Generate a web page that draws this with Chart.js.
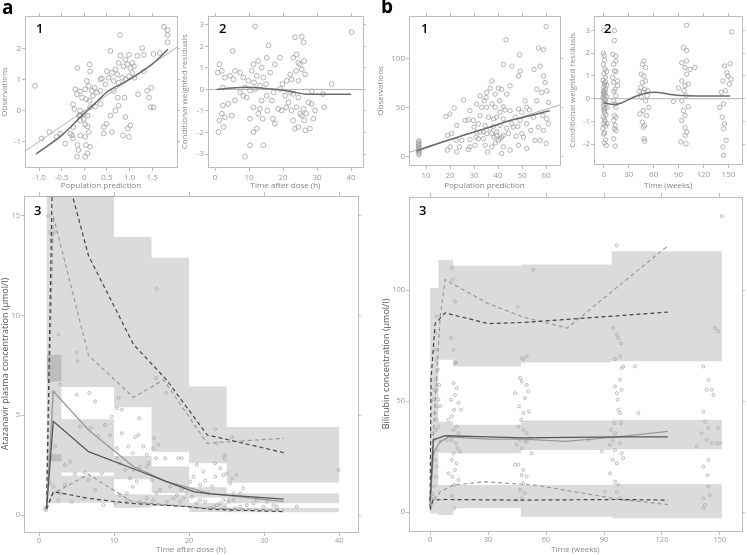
<!DOCTYPE html>
<html>
<head>
<meta charset="utf-8">
<script src="https://cdn.jsdelivr.net/npm/chart.js@4.4.0/dist/chart.umd.min.js"></script>
<style>
  html, body { margin: 0; padding: 0; background: #fff; }
  body { width: 747px; height: 555px; position: relative; overflow: hidden; font-family: 'Open Sans', sans-serif; }
  canvas { position: absolute; }
  .lbl { position: absolute; line-height: 1; color: #000; }
  .big { font-size: 19px; font-weight: bold; }
  .num { font-size: 13px; font-weight: 600; }
</style>
</head>
<body>
<canvas id="a1" width="183" height="184" style="left:0px;top:11px"></canvas>
<canvas id="a2" width="189" height="184" style="left:180px;top:11px"></canvas>
<canvas id="b1" width="190" height="184" style="left:376px;top:11px"></canvas>
<canvas id="b2" width="181" height="184" style="left:566px;top:11px"></canvas>
<canvas id="a3" width="366" height="365" style="left:0px;top:190px"></canvas>
<canvas id="b3" width="369" height="364" style="left:378px;top:191px"></canvas>

<div class="lbl big" style="left:2px;top:-2px">a</div>
<div class="lbl big" style="left:381px;top:-3px">b</div>
<div class="lbl num" style="left:36px;top:22px">1</div>
<div class="lbl num" style="left:219px;top:22px">2</div>
<div class="lbl num" style="left:421px;top:22px">1</div>
<div class="lbl num" style="left:604px;top:22px">2</div>
<div class="lbl num" style="left:34px;top:204px">3</div>
<div class="lbl num" style="left:419px;top:204px">3</div>

<script>
// ---------- a1: observations vs population prediction ----------
const a1XTicks = [-1, -0.5, 0, 0.5, 1, 1.5];
const a1XLabels = ['-1.0', '-0.5', '0', '0.5', '1.0', '1.5'];
const a1YTicks = [-1, 0, 1, 2];
const a1YLabels = ['-1', '0', '1', '2'];
const a1Points = [[-1.09,0.80],[1.76,2.71],[1.84,2.60],[1.84,2.44],[1.84,2.21],[0.79,2.44],[0.58,1.93],[1.67,1.86],[1.53,1.83],[1.28,2.02],[1.32,1.80],[1.17,1.77],[0.80,1.78],[0.99,1.80],[0.91,1.65],[1.06,1.54],[1.10,1.43],[1.02,1.38],[0.95,1.49],[0.87,1.43],[0.76,1.54],[0.69,1.33],[0.73,1.17],[0.61,1.22],[0.50,1.27],[0.54,1.06],[0.65,0.96],[0.76,0.90],[0.84,1.06],[0.91,1.01],[0.99,1.11],[1.06,1.22],[1.11,1.06],[0.12,1.49],[0.13,1.27],[-0.15,1.38],[0.06,0.96],[0.10,0.80],[0.02,0.69],[-0.09,0.62],[0.17,0.64],[0.23,0.74],[0.36,1.01],[0.39,1.04],[-0.20,0.69],[-0.16,0.53],[-0.05,0.42],[0.04,0.37],[0.12,0.32],[0.19,0.48],[0.28,0.58],[0.36,0.64],[-0.25,0.21],[-0.22,0.05],[-0.09,0.00],[-0.01,-0.11],[0.07,-0.16],[0.13,0.11],[0.24,0.13],[-0.01,-0.27],[-0.09,-0.32],[0.02,-0.45],[0.07,-0.51],[-0.24,-0.53],[-0.31,-0.74],[-0.27,-0.80],[-0.25,-0.90],[-0.15,-1.11],[0.04,-1.11],[0.02,-0.85],[0.10,-0.69],[-0.09,-0.80],[0.13,-1.17],[0.07,-1.38],[-0.16,-1.49],[0.02,-1.49],[-0.13,-1.27],[-0.53,-0.74],[-0.61,-0.85],[-0.42,-1.06],[-0.77,-0.69],[-0.94,-0.90],[0.43,-0.53],[0.49,-0.42],[0.58,-0.16],[0.69,0.00],[0.76,0.16],[0.91,-0.21],[0.96,-0.58],[0.99,-0.85],[0.86,-0.80],[1.02,-0.48],[1.39,0.64],[1.43,0.42],[1.48,0.74],[1.32,1.27],[1.19,0.53],[1.47,0.11],[1.53,0.11],[0.74,0.42],[0.65,0.64],[0.47,0.85],[0.36,0.21],[0.43,-0.74],[0.61,-0.69],[0.89,0.42],[-0.10,-0.15],[-0.08,-0.13],[-0.12,-0.16]];
const a1Identity = [[-1.35,-1.35],[2.1,2.1]];
const a1Smooth = [[-1.07,-1.4],[-0.5,-0.8],[-0.05,-0.16],[0.25,0.25],[0.5,0.6],[0.8,0.85],[1.1,1.1],[1.5,1.5],[1.85,1.98]];

// ---------- a2: CWRES vs time after dose ----------
const a2XTicks = [0, 10, 20, 30, 40];
const a2XLabels = ['0', '10', '20', '30', '40'];
const a2YTicks = [-3, -2, -1, 0, 1, 2, 3];
const a2YLabels = ['-3', '-2', '-1', '0', '1', '2', '3'];
const a2Points = [[11.8,2.92],[40.2,2.66],[15.7,2.04],[5.2,1.78],[23.5,2.42],[25.5,2.45],[26,2.19],[23.0,1.47],[24.0,1.62],[24.5,1.24],[25.0,1.16],[26.2,1.32],[25.5,0.93],[23.8,0.86],[26.5,0.70],[22.1,0.70],[21.1,0.40],[22.5,0.47],[24.5,0.40],[19.8,0.25],[19.1,1.47],[17.6,1.16],[15.2,1.47],[16.2,0.78],[13.7,1.01],[12.7,1.32],[11.3,1.16],[10.8,0.86],[12.3,0.63],[14.2,0.55],[15.0,0.25],[13.2,0.17],[11.5,0.32],[9.8,0.40],[8.8,0.09],[10.3,-0.06],[11.8,0.02],[1.3,1.16],[0.8,0.78],[2.0,0.86],[2.9,0.55],[4.4,0.63],[5.9,0.86],[7.4,0.78],[8.3,0.55],[5.4,0.47],[2.3,0.09],[2.0,-1.13],[1.3,-1.44],[1.0,-1.98],[2.5,-1.75],[2.9,-1.29],[2.3,-0.75],[3.9,-0.67],[4.9,-1.21],[8.3,-0.29],[9.3,-0.37],[11.3,-0.83],[10.3,-1.36],[10.3,-2.59],[8.8,-3.12],[11.3,-1.98],[12.3,-1.82],[13.7,-0.52],[13.2,-0.90],[12.7,-1.13],[14.2,-2.59],[14.0,-1.36],[15.4,-0.98],[16.7,-0.52],[17.0,-1.36],[17.6,-1.59],[18.6,-0.90],[19.6,-0.98],[20.6,-0.29],[20.9,-0.83],[21.6,-0.60],[22.5,-0.98],[23.0,-1.44],[23.5,-1.82],[24.5,-1.75],[25.0,-1.13],[25.5,-1.21],[26.0,-0.90],[26.2,-1.44],[26.8,-1.13],[27.5,-0.60],[28.4,-0.67],[29.4,-0.98],[28.9,-1.36],[27.9,-1.82],[26.5,-1.90],[24.0,-0.83],[24.5,-0.37],[23.0,-0.21],[22.1,-0.14],[28.4,-0.09],[32.1,-0.83],[31.7,-0.21],[34.3,0.25],[19.1,0.02],[17.2,-0.14],[15.2,-0.29],[5.9,-0.52],[7.4,-0.14]];
const a2Zero = [[-2.1,0],[43.6,0]];
const a2Smooth = [[0.5,0],[5,0.07],[9.3,0.1],[14,0.06],[19,-0.02],[23,-0.12],[27,-0.22],[33,-0.22],[40,-0.22]];

// ---------- b1: observations vs population prediction ----------
const b1XTicks = [10, 20, 30, 40, 50, 60];
const b1XLabels = ['10', '20', '30', '40', '50', '60'];
const b1YTicks = [0, 50, 100];
const b1YLabels = ['0', '50', '100'];
const b1Points = [[7,2],[7,3.5],[7,5],[7.1,6],[6.9,7],[7,8.5],[7,10],[7.1,11],[6.9,12],[7,13.5],[7,15],[7,16.5],[18.3,41.1],[20,43.8],[21.7,49.8],[25.6,57.9],[22.8,32],[26.3,37],[27.6,37.7],[19,21.9],[20.7,23.6],[22.5,16.8],[24.9,16.8],[28.3,17.5],[23.9,10.1],[20,10.1],[18.9,6.7],[22.8,5],[27.6,7.4],[28.3,10.1],[30.4,11.8],[30.8,20.2],[31.1,25.3],[30,30.3],[31.8,33.7],[32.5,42.1],[33.2,50.5],[34.2,57.2],[35.3,65.7],[36.7,70],[37.4,77.4],[40.1,70],[41.5,69],[38.8,64],[40.6,57.2],[42.2,51.2],[42.9,47.8],[43.6,64],[45,72.4],[48.5,82.5],[49.2,87.5],[45.8,92.6],[48.9,104.4],[43.3,119.5],[42.2,94.3],[57.5,92.6],[58.9,109.4],[56.8,111.1],[60,133],[58.9,82.5],[59.6,75.8],[56.1,69],[61,55.6],[58.2,65.7],[60.3,67.3],[60,13.5],[57.5,16.8],[58.9,26.9],[51.9,33.7],[53.6,26.9],[49.9,23.6],[50.6,20.2],[48.5,11.8],[47.5,20.9],[45.7,33.7],[47.1,40.4],[49.9,45.5],[51.3,57.2],[53.1,47.8],[54.7,40.4],[56.1,57.2],[55,89.2],[43.6,29.3],[44.3,23.6],[41.5,20.2],[40.1,16.8],[38.8,14.1],[37.4,10.1],[34.6,11.8],[35.6,5],[41.5,3.4],[45,6.7],[33.9,18.5],[35.3,23.6],[36.7,28.6],[38.1,31],[39.4,25.3],[40.8,32],[42.2,38.7],[38.1,38.7],[36,40.4],[34.6,32],[32.5,25.3],[31.8,18.5],[39.4,40.4],[40.8,45.5],[45,47.1],[37.4,53.9],[35.3,50.5],[31.1,53.9],[28.3,47.1],[32.5,62.3],[35,60.6],[38.8,50.5],[29.7,37],[33.9,25.3],[37.4,23.6],[38.3,20.2],[39.4,21.9],[40.8,18.5],[42.2,21.9],[46.4,30.3],[48.2,31],[49.2,37],[48.5,48.8],[51.9,50.5],[42.2,10.1],[51.9,8.4],[55.4,16.8],[56.8,30.3],[58.6,42.1],[60.3,38.7],[61,33.7]];
const b1Reference = [[2.9,4.5],[65.8,53]];
const b1Smooth = [[6,6],[15,13.5],[25,21.5],[35,29],[45,37],[55,43],[61.5,47]];

// ---------- b2: CWRES vs time ----------
const b2XTicks = [0, 30, 60, 90, 120, 150];
const b2XLabels = ['0', '30', '60', '90', '120', '150'];
const b2YTicks = [-2, -1, 0, 1, 2, 3];
const b2YLabels = ['-2', '-1', '0', '1', '2', '3'];
const b2Points = [[0,3.0],[-0.5,2.0],[0.5,1.9],[1,1.7],[-0.5,1.5],[1.5,1.3],[0,1.1],[2,0.95],[-1,0.8],[0.5,0.7],[1,0.6],[0,0.5],[2,0.4],[-0.5,0.3],[1.5,0.25],[0,0.2],[3,0.1],[-1,0.05],[0.5,0],[1,-0.05],[2,-0.1],[0,-0.2],[-0.5,-0.3],[1.5,-0.4],[0,-0.5],[1,-0.6],[2.5,-0.7],[-0.5,-0.8],[0.5,-0.9],[1.5,-1.0],[0,-1.1],[2,-1.2],[-1,-1.3],[1,-1.5],[0,-1.55],[2,-1.8],[0.5,-1.95],[3,-2.05],[3.5,0.6],[4,-0.4],[3.5,1.2],[4,-1.1],[0.5,0.35],[1,0.15],[1.5,-0.25],[0.5,-0.45],[2,0.75],
  [12.7,3.0],[12.7,2.56],[10.7,1.95],[14.6,1.88],[14.6,1.66],[11.9,1.51],[12.7,1.22],[14.6,1.19],[16.6,0.78],[11.9,0.71],[13.5,0.42],[11.9,0.32],[14.6,0.13],[11.9,-0.09],[13.5,-0.23],[14.6,-0.38],[12.7,-0.74],[14.6,-0.81],[11.9,-0.96],[13.9,-1.18],[12.7,-1.32],[14.6,-1.4],[11.9,-1.76],[13.5,-2.08],[10.7,0.93],[16.6,0.57],
  [48.3,1.66],[46.3,1.51],[50.3,1.37],[45.1,1.08],[48.3,1.0],[50.3,0.78],[46.3,0.71],[44.3,0.49],[49.1,0.42],[47.5,0.28],[52.2,0.13],[45.1,0.06],[50.3,-0.09],[54.2,-0.38],[47.5,-0.52],[43.5,-0.67],[51.4,-0.74],[46.3,-1.03],[49.1,-1.18],[47.5,-1.25],[48.3,-1.76],[49.1,-1.86],[42.3,0.32],[53,0.35],
  [99.7,3.23],[95.8,2.24],[99.7,2.12],[93.8,1.58],[99.7,1.66],[97.7,1.37],[103.7,1.29],[109.6,1.37],[99.7,1.08],[93.8,0.78],[97.7,0.57],[101.7,0.64],[89.8,0.47],[96.6,0.35],[99,0.13],[93.8,-0.09],[101.7,-0.35],[95.8,-0.52],[97.7,-0.74],[93.8,-0.96],[97.7,-1.28],[99.7,-1.47],[97.7,-1.61],[92.6,-1.9],[99,-1.98],[83.9,-0.12],
  [153.9,2.94],[145.2,1.44],[152,1.54],[148,1.15],[143.3,0.78],[151.2,0.64],[146.4,0.35],[141.3,0.28],[139.3,-0.38],[144.1,-0.23],[142.5,-0.81],[145.2,-1.1],[144.1,-1.32],[147.2,-1.83],[143.3,-2.12],[144.1,-2.49],[149.2,1.0],[153.1,0.86]];
const b2Zero = [[-12,0],[168,0]];
const b2Smooth = [[0,-0.18],[12,-0.26],[22,-0.18],[35,0.05],[50,0.24],[62,0.28],[78,0.2],[95,0.14],[120,0.12],[152,0.12]];

// ---------- a3: atazanavir VPC ----------
const a3XTicks = [0, 10, 20, 30, 40];
const a3XLabels = ['0', '10', '20', '30', '40'];
const a3YTicks = [0, 5, 10, 15];
const a3YLabels = ['0', '5', '10', '15'];
const a3BinEdges = [1, 3, 10, 15, 20, 25, 40];
const a3UpperHi = [30, 30, 13.94, 12.9, 6.45, 4.41];
const a3UpperLo = [6.7, 6.42, 5.41, 3.18, 2.6, 1.62];
const a3MedianHi = [8.04, 4.81, 2.96, 2.43, 1.39, 1.09];
const a3MedianLo = [2.68, 2.13, 1.79, 1.1, 0.88, 0.59];
const a3LowerHi = [3.05, 1.97, 1.04, 1.02, 0.6, 0.37];
const a3LowerLo = [0.59, 0.62, 0.37, 0.45, 0.15, 0.14];
const a3ObsMedian = [[1,0.3],[1.9,4.7],[6.6,3.18],[13,2.26],[17,1.68],[20.6,1.17],[22.8,1.06],[32.6,0.8]];
const a3PredMedian = [[1,0.3],[1.9,6.2],[6.6,4.27],[12.6,2.43],[17,1.68],[22.8,1.07],[32.6,0.67]];
const a3DarkUpper = [[1,0.3],[1.9,19.6],[6.6,13],[12.6,8.55],[17,6.78],[22.4,4.02],[32.6,3.13]];
const a3LightUpper = [[1,0.3],[1.9,15],[6.6,8.0],[12.6,5.9],[16.6,6.78],[22.4,3.6],[32.6,3.85]];
const a3DarkLower = [[1,0.3],[1.9,1.17],[6.6,0.84],[12.1,0.59],[19.9,0.42],[22.8,0.29],[32.6,0.17]];
const a3LightLower = [[1,0.3],[1.9,1.09],[6.6,2.04],[12.4,0.67],[22.4,0.34],[32.6,0.25]];
const a3Points = [[0.93,0.25],[1.02,0.4],[0.8,0.34],[1.24,15],[1.47,14.2],[1.69,13.8],[2.13,14.2],[2.58,9.05],[1.91,6.15],[2.8,6.54],[2.13,3.44],[1.47,1.59],[1.91,1.42],[2.8,1.09],[3.47,2.51],[5.02,6.03],[5.11,7.71],[5.02,8.16],[5.47,4.44],[6.71,6.12],[7.47,5.7],[6.89,4.36],[6.13,2.13],[4.8,2.06],[7.91,3.97],[8.8,4.52],[8.36,2.09],[8.58,0.5],[9.47,4.0],[9.69,4.94],[10.58,5.87],[10.36,5.36],[11.02,5.28],[11.02,4.11],[10.36,3.35],[10.36,2.85],[10.8,2.6],[11.47,2.26],[11.91,3.44],[12.49,3.1],[12.8,3.9],[13.38,4.86],[13.24,4.02],[13.91,3.44],[12.58,2.26],[12.13,1.84],[11.69,1.09],[12.49,1.42],[13.02,1.68],[13.47,2.43],[14.36,2.43],[14.58,2.6],[14.36,3.02],[15.24,3.35],[15.33,3.85],[15.91,3.52],[15.6,2.85],[16.8,2.85],[18.58,2.85],[19.0,2.85],[15.69,11.35],[15.6,6.87],[16.93,6.12],[15.02,1.76],[15.69,1.09],[16.13,1.26],[17.47,1.42],[18.36,1.0],[19.02,1.26],[19.69,1.09],[20.58,1.93],[21.02,2.51],[20.13,1.68],[21.47,1.51],[21.91,2.18],[22.13,1.73],[22.58,1.09],[23.02,1.42],[23.47,1.93],[23.47,2.6],[23.47,4.31],[23.69,3.6],[24.13,2.35],[24.58,2.01],[24.67,2.85],[24.8,3.02],[25.02,2.09],[25.47,1.59],[25.69,1.84],[25.91,1.09],[25.69,3.9],[26.27,2.01],[25.91,0.75],[25.24,0.67],[24.58,0.75],[24.13,0.59],[23.69,0.5],[23.24,0.42],[22.8,0.34],[22.13,0.67],[21.47,0.75],[21.02,0.59],[20.36,0.92],[26.8,1.09],[27.24,1.34],[27.69,0.5],[28.58,0.59],[29.02,0.75],[29.91,0.42],[30.36,0.67],[31.24,0.5],[31.69,0.42],[34.36,0.42],[39.91,2.26],[26.8,0.42],[26.13,0.34],[25.47,0.25],[24.8,0.34],[10.13,0.59],[10.8,1.0],[11.69,0.75],[13.47,0.67],[14.36,0.84],[15.24,0.75],[17.02,0.67],[17.91,0.84],[18.8,0.67],[19.24,0.84],[7.47,1.26],[6.58,1.76],[4.13,2.68],[3.47,1.51],[2.58,0.75],[4.36,0.67],[5.91,0.84]];

// ---------- b3: bilirubin VPC ----------
const b3XTicks = [0, 30, 60, 90, 120, 150];
const b3XLabels = ['0', '30', '60', '90', '120', '150'];
const b3YTicks = [0, 50, 100];
const b3YLabels = ['0', '50', '100'];
const b3BinEdges = [0, 4.3, 12, 47, 94, 151];
const b3UpperHi = [101, 113.8, 111, 111.6, 117.6];
const b3UpperLo = [50, 68.7, 65.7, 67.5, 68];
const b3MedianHi = [50, 40.9, 39.4, 41.4, 41.7];
const b3MedianLo = [12.3, 26.8, 26.6, 28.1, 28.4];
const b3LowerHi = [12.3, 12.3, 12.3, 12.3, 12.6];
const b3LowerLo = [-0.5, -1.2, 1.8, -2, -2.7];
const b3ObsMedian = [[0,5],[1.7,32.6],[7.8,34.5],[30,34],[48,33.5],[97,34],[123,34]];
const b3PredMedian = [[0,3],[1.7,26.6],[5.2,31.8],[9.5,34],[30,33],[48,33],[70,32],[97,34],[123,36.5]];
const b3DarkUpper = [[0,2],[0.5,60],[2.6,85],[7.8,89.8],[30,85],[48,85.5],[97,88.5],[123,90.2]];
const b3LightUpper = [[0,3],[2,40],[5.2,88],[7.8,104.8],[30,94],[48,88],[71,83],[123,120]];
const b3DarkLower = [[0,1],[1.5,5.5],[8,5.8],[48,5.5],[97,5.8],[123,5.5]];
const b3LightLower = [[0,3],[5.2,9.3],[12,12.3],[28.5,13.8],[54,12.3],[97,6],[123,3.5]];
const b3Points = [[3.4,88.3],[2.9,80.8],[2.6,73.2],[3.4,68.7],[4,64.2],[2.9,59.7],[3.4,55.2],[4.3,50.7],[3.4,47.7],[2.6,44.7],[3.4,41.7],[3.1,37.1],[2.2,32.6],[3.4,28.1],[2.6,23.6],[3.4,20.6],[2.9,16.1],[2.2,11.6],[1.2,8.6],[0.5,5.6],[0.9,4.1],[1.7,7.1],[1.9,50.7],[2.2,55.2],[1.2,35.6],[1.7,26.6],[4.3,38.6],[5.2,47.7],[4.7,57.4],[5.2,31.9],
  [11.2,110],[11.7,104.8],[12.9,95],[10.9,78.5],[12.1,73.2],[12.9,67.2],[13.4,67.5],[12.1,58.2],[13.8,55.9],[12.9,52.9],[10.9,50.7],[14.7,49.2],[12.4,46.2],[11.2,43.2],[13.8,38.6],[12.1,37.1],[14.7,35.6],[10.9,32.6],[13.3,31.1],[14.3,28.9],[12.1,26.6],[11.2,23.6],[13.8,22.1],[12.9,19.1],[11.5,16.1],[14.7,14.6],[12.4,12.3],[11.2,7.4],[12.6,1.8],[9.5,17.6],[15.5,27.4],[16,46.2],[9.5,41.7],[8.6,32.6],
  [45.3,92.5],[53.4,109.3],[47.4,69.5],[48.3,68.7],[50,70.2],[46.6,60.5],[47.4,58.9],[50,57.4],[50.9,54.4],[49.1,51.4],[44,53.7],[46,47.7],[48.3,44.7],[51.2,45.4],[47.1,41.7],[45.7,38.6],[48.3,37.1],[50,35.6],[51.7,33.4],[46.6,32.6],[49.1,31.9],[47.4,28.9],[52.6,26.6],[45.7,21.4],[44,21.4],[48.3,19.1],[47.4,16.8],[50,16.1],[48.3,13.1],[46.6,10.1],[49.1,8.6],[44.8,5.6],[47.4,6.3],[50,31.9],[44.8,30.4],
  [96.6,120.2],[94.8,83],[96.6,80],[97.4,78.5],[98.8,76.2],[98.3,70.2],[95.7,69],[99.1,65],[100,65.7],[106,65.7],[98.3,59.7],[99.1,55.2],[95.7,56.7],[96.6,53.7],[97.1,50.7],[97.4,46.2],[98.3,44.7],[95.3,40.2],[98.8,40.2],[93.6,37.1],[95.7,35.6],[94.5,32.6],[98.3,31.1],[93.1,30.4],[95.7,28.1],[99.1,26.6],[100,24.4],[94.5,23.6],[96.6,22.1],[93.1,17.6],[95.7,13.8],[97.4,12.3],[96.6,9.3],[98.3,6.3],[90.5,9.3],[88.8,27.4],[107.8,44.7],[81.9,32.6],
  [150.9,133.4],[147.4,83],[149.1,81.5],[141.4,65.7],[144,59.7],[143.1,55.2],[145.7,55.2],[146.6,52.9],[141.4,45.4],[142.2,40.9],[144,37.9],[149.1,37.9],[140.5,35.6],[143.1,32.6],[145.7,31.1],[148.3,31.1],[150,31.1],[137.9,29.6],[144,23.6],[141.4,20.6],[143.6,16.8],[144,11.6],[141.4,6.3],[144.8,7.8],[142.2,3.3],[141.4,1.8]];

// ---------- helpers ----------
const FONT = "'Open Sans', sans-serif";
const GRID = '#bdbdbd';
const BAND = 'rgba(0,0,0,0.14)';

const pts = arr => arr.map(([x, y]) => ({ x, y }));

function circles(arr, r, color) {
  return { data: pts(arr), showLine: false, pointRadius: r, pointBorderWidth: 0.8,
           pointBorderColor: color, pointBackgroundColor: 'rgba(0,0,0,0)' };
}

function line(arr, color, width, dash, smooth) {
  return { data: pts(arr), showLine: true, borderColor: color, borderWidth: width,
           borderDash: dash || [], pointRadius: 0, fill: false,
           tension: smooth ? 0.4 : 0, cubicInterpolationMode: smooth ? 'monotone' : 'default' };
}

// stepped outline: value i holds from edge i to edge i+1
function steps(edges, vals) {
  return edges.map((e, i) => ({ x: e, y: vals[Math.min(i, vals.length - 1)] }));
}

function band(edges, lo, hi) {
  return [
    { data: steps(edges, lo), showLine: true, stepped: true, borderWidth: 0, borderColor: 'rgba(0,0,0,0)', pointRadius: 0, fill: false },
    { data: steps(edges, hi), showLine: true, stepped: true, borderWidth: 0, borderColor: 'rgba(0,0,0,0)', pointRadius: 0, fill: '-1', backgroundColor: BAND }
  ];
}

function axis(pos, min, max, ticks, labels, size, o) {
  const horiz = pos === 'bottom' || pos === 'top';
  const main = pos === 'bottom' || pos === 'left';
  return {
    type: 'linear', position: pos, min: min, max: max,
    afterBuildTicks: s => { s.ticks = ticks.map(v => ({ value: v })); },
    afterFit: s => { if (horiz) s.height = size; else s.width = size; },
    grid: { drawOnChartArea: false, color: GRID, tickLength: horiz ? 4 : 3 },
    border: { color: GRID },
    ticks: { display: main, color: '#999', autoSkip: false, maxRotation: 0,
             padding: horiz ? o.xPad : 1, font: { family: FONT, size: o.tickSize },
             callback: (v, i) => labels[i] },
    title: main ? { display: true, text: horiz ? o.xTitle : o.yTitle,
                    color: horiz ? '#888' : o.yColor,
                    font: { family: FONT, size: horiz ? 8 : o.ySize },
                    padding: horiz ? { top: 0, bottom: o.xTitlePad } : { top: o.yTitlePad, bottom: 0 } }
                : { display: false }
  };
}

function panel(id, p, datasets) {
  return new Chart(document.getElementById(id), {
    type: 'scatter',
    data: { datasets: datasets },
    options: {
      responsive: false, animation: false, devicePixelRatio: 1,
      layout: { padding: 0 },
      plugins: { legend: { display: false }, tooltip: { enabled: false } },
      scales: {
        x: axis('bottom', p.x[0], p.x[1], p.xt, p.xl, p.size[3], p),
        x2: axis('top', p.x[0], p.x[1], p.xt, p.xl, p.size[2], p),
        y: axis('left', p.y[0], p.y[1], p.yt, p.yl, p.size[0], p),
        y2: axis('right', p.y[0], p.y[1], p.yt, p.yl, p.size[1], p)
      }
    }
  });
}

const upperStyle = { tickSize: 8, xPad: 2, xTitlePad: 4, ySize: 8, yColor: '#888', yTitlePad: 0 };
const lowerStyle = { tickSize: 7.5, xPad: 0, xTitlePad: 0, ySize: 9, yColor: '#555' };

panel('a1', Object.assign({}, upperStyle, {
  x: [-1.31, 2.05], y: [-1.82, 3.03], xt: a1XTicks, xl: a1XLabels, yt: a1YTicks, yl: a1YLabels,
  size: [25, 6, 4, 28], xTitle: 'Population prediction', yTitle: 'Observations'
}), [
  line(a1Smooth, '#6a6a6a', 1.5, null, true),
  line(a1Identity, '#b0b0b0', 1),
  circles(a1Points, 2.4, '#a0a0a0')
]);

panel('a2', Object.assign({}, upperStyle, {
  x: [-2.06, 43.5], y: [-3.6, 3.37], xt: a2XTicks, xl: a2XLabels, yt: a2YTicks, yl: a2YLabels,
  size: [28, 6, 4, 28], xTitle: 'Time after dose (h)', yTitle: 'Conditional weighted residuals'
}), [
  line(a2Smooth, '#6a6a6a', 1.5, null, true),
  line(a2Zero, '#b0b0b0', 1),
  circles(a2Points, 2.4, '#a0a0a0')
]);

panel('b1', Object.assign({}, upperStyle, {
  x: [2.9, 65.8], y: [-8.4, 143], xt: b1XTicks, xl: b1XLabels, yt: b1YTicks, yl: b1YLabels,
  size: [33, 6, 4, 30], xTitle: 'Population prediction', yTitle: 'Observations'
}), [
  line(b1Smooth, '#6a6a6a', 1.5, null, true),
  line(b1Reference, '#b0b0b0', 1),
  circles(b1Points, 2.2, '#a0a0a0')
]);

panel('b2', Object.assign({}, upperStyle, {
  x: [-11.8, 166.5], y: [-2.87, 3.6], xt: b2XTicks, xl: b2XLabels, yt: b2YTicks, yl: b2YLabels,
  size: [28, 2, 4, 31], xTitle: 'Time (weeks)', yTitle: 'Conditional weighted residuals', yTitlePad: 2
}), [
  line(b2Smooth, '#6a6a6a', 1.5, null, true),
  line(b2Zero, '#b0b0b0', 1),
  circles(b2Points, 2.2, '#a0a0a0')
]);

panel('a3', Object.assign({}, lowerStyle, {
  x: [-2, 42.5], y: [-0.85, 16.0], xt: a3XTicks, xl: a3XLabels, yt: a3YTicks, yl: a3YLabels,
  size: [24, 8, 6, 23], xTitle: 'Time after dose (h)', yTitle: 'Atazanavir plasma concentration (µmol/l)', yTitlePad: 0
}), [
  line(a3ObsMedian, '#555', 1.3),
  line(a3PredMedian, '#999', 1.3),
  line(a3DarkUpper, '#444', 1.2, [4, 3]),
  line(a3LightUpper, '#999', 1.2, [4, 3]),
  line(a3DarkLower, '#444', 1.2, [4, 3]),
  line(a3LightLower, '#999', 1.2, [4, 3]),
  circles(a3Points, 1.5, '#aaa'),
  ...band(a3BinEdges, a3LowerLo, a3LowerHi),
  ...band(a3BinEdges, a3MedianLo, a3MedianHi),
  ...band(a3BinEdges, a3UpperLo, a3UpperHi)
]);

panel('b3', Object.assign({}, lowerStyle, {
  x: [-10.9, 161.4], y: [-8.4, 142], xt: b3XTicks, xl: b3XLabels, yt: b3YTicks, yl: b3YLabels,
  size: [31, 5, 6, 24], xTitle: 'Time (weeks)', yTitle: 'Bilirubin concentration (µmol/l)', yTitlePad: 3
}), [
  line(b3ObsMedian, '#555', 1.3),
  line(b3PredMedian, '#999', 1.3),
  line(b3DarkUpper, '#444', 1.2, [4, 3]),
  line(b3LightUpper, '#999', 1.2, [4, 3]),
  line(b3DarkLower, '#444', 1.2, [4, 3]),
  line(b3LightLower, '#999', 1.2, [4, 3]),
  circles(b3Points, 1.5, '#aaa'),
  ...band(b3BinEdges, b3LowerLo, b3LowerHi),
  ...band(b3BinEdges, b3MedianLo, b3MedianHi),
  ...band(b3BinEdges, b3UpperLo, b3UpperHi)
]);
</script>
</body>
</html>
